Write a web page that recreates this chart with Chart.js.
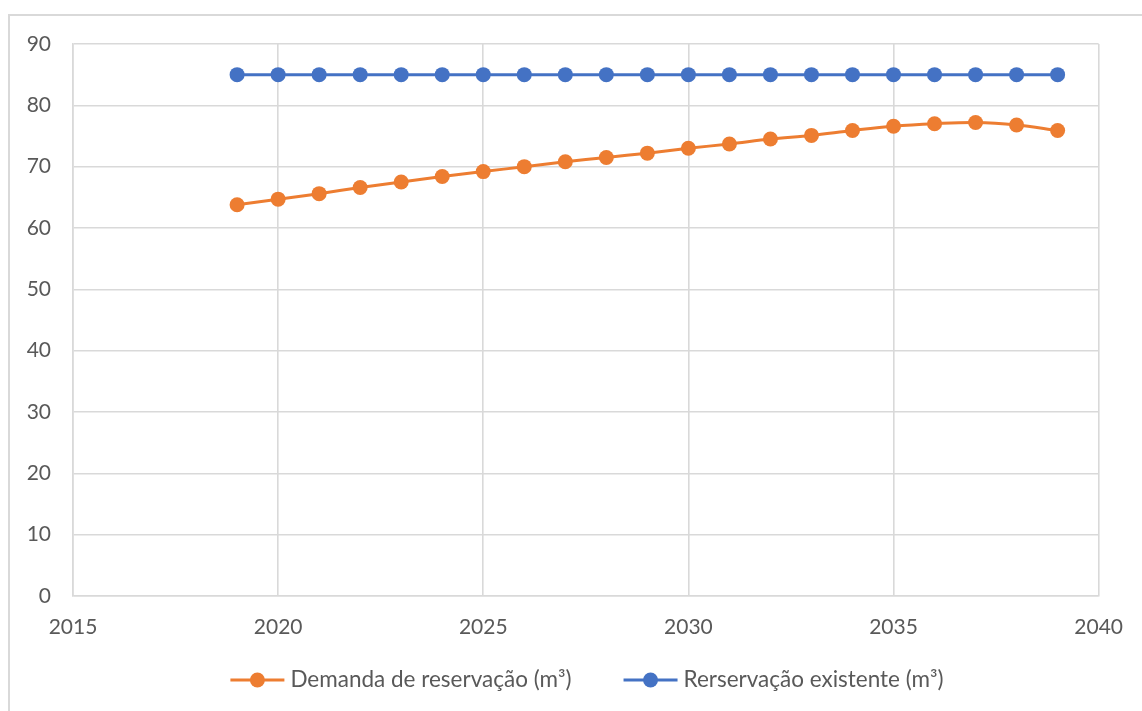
<!DOCTYPE html>
<html>
<head>
<meta charset="utf-8">
<title>Demanda de reservação</title>
<script src="https://cdn.jsdelivr.net/npm/chart.js@4.4.1/dist/chart.umd.min.js"></script>
<style>
  html, body { margin: 0; padding: 0; background: #ffffff; overflow: hidden; }
  #wrap { position: relative; width: 1142px; height: 711px; }
  #frame { position: absolute; left: 8px; top: 14px; width: 1300px; height: 900px;
           border: 2px solid #d9d9d9; box-sizing: border-box; }
  #c { position: absolute; left: 0; top: 0; }
</style>
</head>
<body>
<div id="wrap">
  <div id="frame"></div>
  <canvas id="c" width="1142" height="711"></canvas>
</div>
<script>
// Years of the projection
const years = [2019, 2020, 2021, 2022, 2023, 2024, 2025, 2026, 2027, 2028, 2029,
               2030, 2031, 2032, 2033, 2034, 2035, 2036, 2037, 2038, 2039];

// Required storage volume per year (m³)
const demanda = [63.8, 64.7, 65.6, 66.6, 67.5, 68.4, 69.2, 70.0, 70.8, 71.5, 72.2,
                 73.0, 73.7, 74.5, 75.1, 75.9, 76.6, 77.0, 77.2, 76.8, 75.9];

// Existing storage volume (m³)
const existente = [85, 85, 85, 85, 85, 85, 85, 85, 85, 85, 85,
                   85, 85, 85, 85, 85, 85, 85, 85, 85, 85];

const seriesNames = ['Demanda de reservação (m³)', 'Rerservação existente (m³)'];

// Axis ticks
const xTicks = [2015, 2020, 2025, 2030, 2035, 2040];
const yTicks = [0, 10, 20, 30, 40, 50, 60, 70, 80, 90];

const ORANGE = '#ED7D31';
const BLUE = '#4472C4';
const TEXT = '#595959';
const GRID = '#d9d9d9';
const FONT = 'Lato';

const toPoints = (vals) => years.map((yr, i) => ({ x: yr, y: vals[i] }));

// Legend drawn below the axis: a short line with a marker, then the label
const bottomLegend = {
  id: 'bottomLegend',
  afterDraw(chart) {
    const ctx = chart.ctx;
    const ds = chart.data.datasets;
    const lineW = 54, gapText = 6, gapItem = 52, y = 680, centerX = 587;
    ctx.save();
    ctx.font = '22.5px ' + FONT;
    const widths = ds.map(d => lineW + gapText + ctx.measureText(d.label).width);
    const total = widths.reduce((a, b) => a + b, 0) + gapItem * (ds.length - 1);
    let x = centerX - total / 2;
    ds.forEach((d, i) => {
      ctx.strokeStyle = d.borderColor;
      ctx.lineWidth = 3;
      ctx.beginPath();
      ctx.moveTo(x, y);
      ctx.lineTo(x + lineW, y);
      ctx.stroke();
      ctx.fillStyle = d.backgroundColor;
      ctx.beginPath();
      ctx.arc(x + lineW / 2, y, 7.5, 0, Math.PI * 2);
      ctx.fill();
      ctx.fillStyle = TEXT;
      ctx.textBaseline = 'middle';
      ctx.textAlign = 'left';
      ctx.fillText(d.label, x + lineW + gapText, y);
      x += widths[i] + gapItem;
    });
    ctx.restore();
  }
};

new Chart(document.getElementById('c'), {
  type: 'line',
  data: {
    datasets: [
      {
        label: seriesNames[0],
        data: toPoints(demanda),
        borderColor: ORANGE,
        backgroundColor: ORANGE,
        borderWidth: 3,
        pointRadius: 7.5,
        pointBorderWidth: 0,
        tension: 0.35
      },
      {
        label: seriesNames[1],
        data: toPoints(existente),
        borderColor: BLUE,
        backgroundColor: BLUE,
        borderWidth: 3,
        pointRadius: 7.5,
        pointBorderWidth: 0,
        tension: 0.35
      }
    ]
  },
  options: {
    responsive: false,
    animation: false,
    layout: { padding: { top: 44, right: 37, bottom: 55, left: 0 } },
    plugins: {
      legend: { display: false },
      tooltip: { enabled: false }
    },
    scales: {
      x: {
        type: 'linear',
        min: xTicks[0],
        max: xTicks[xTicks.length - 1],
        afterBuildTicks: (s) => { s.ticks = xTicks.map(v => ({ value: v })); },
        afterFit: (s) => { s.height = 60; },
        grid: { color: GRID, lineWidth: 1.6, drawTicks: false },
        border: { color: GRID, width: 1.6 },
        ticks: {
          color: TEXT,
          font: { family: FONT, size: 21 },
          padding: 19,
          maxRotation: 0,
          callback: (v) => String(v)
        }
      },
      y: {
        min: yTicks[0],
        max: yTicks[yTicks.length - 1],
        afterBuildTicks: (s) => { s.ticks = yTicks.map(v => ({ value: v })); },
        afterFit: (s) => { s.width = 73; },
        grid: { color: GRID, lineWidth: 1.6, drawTicks: false },
        border: { color: GRID, width: 1.6 },
        ticks: {
          color: TEXT,
          font: { family: FONT, size: 21 },
          padding: 22
        }
      }
    }
  },
  plugins: [bottomLegend]
});
</script>
</body>
</html>
